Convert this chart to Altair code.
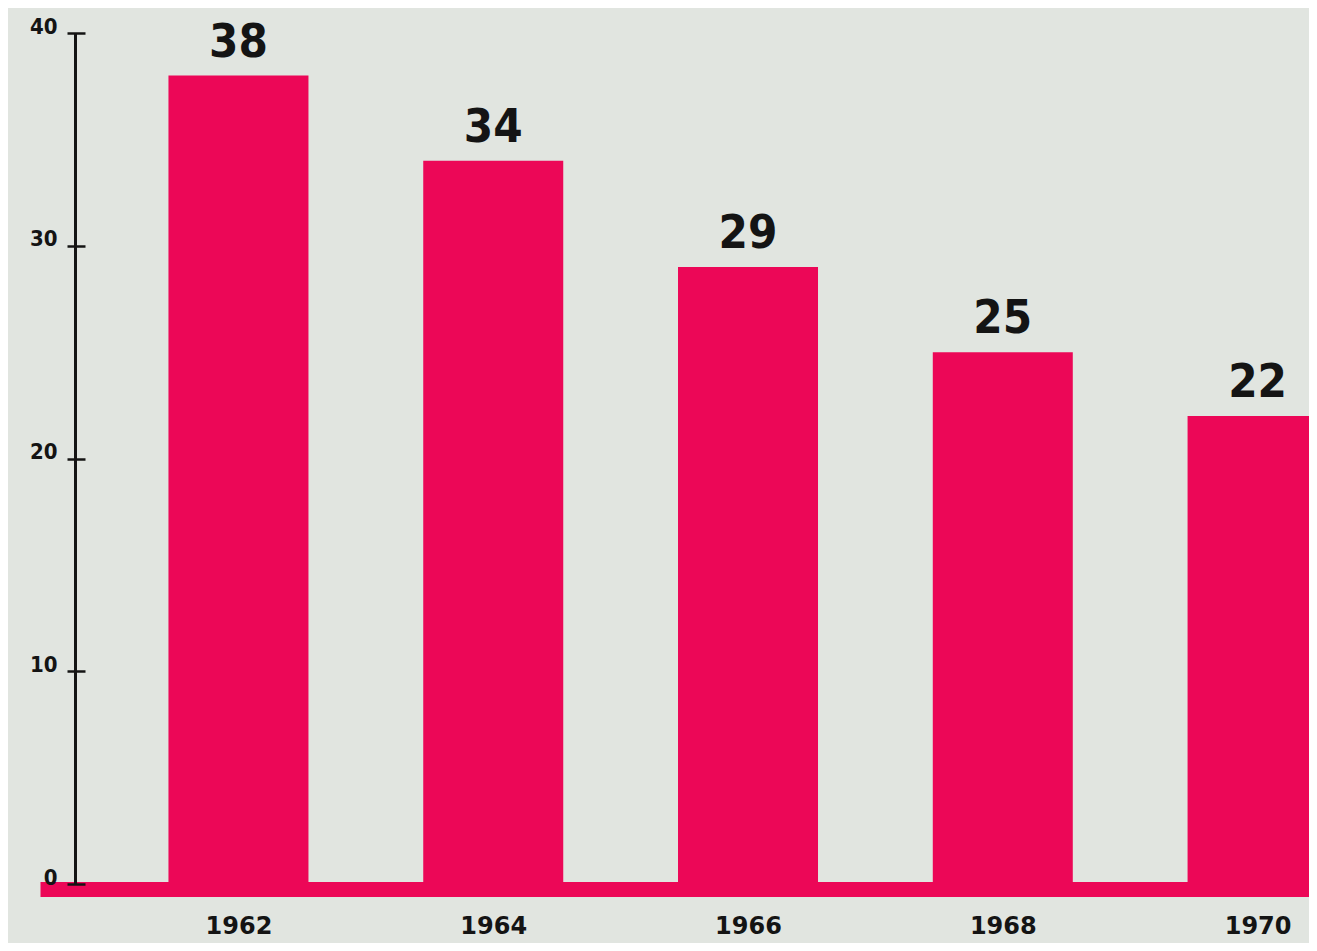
import altair as alt
import pandas as pd

years = [1962, 1964, 1966, 1968, 1970]
values = [38, 34, 29, 25, 22]
y_ticks = [0, 10, 20, 30, 40]

df = pd.DataFrame({"year": years, "value": values})

BG = "#E1E5E0"
RED = "#EC0757"
INK = "#141414"

xscale = alt.Scale(domain=[1960.4813, 1970.3645], nice=False, zero=False)
yscale = alt.Scale(domain=[0, 40], nice=False, zero=True)

base = alt.Chart(df)

bars = base.mark_bar(size=140, color=RED, clip=True).encode(
    x=alt.X(
        "year:Q",
        scale=xscale,
        axis=alt.Axis(
            values=years, format="d", title=None, grid=False, ticks=False,
            domainColor=RED, domainWidth=15, offset=5,
            labelFont="DejaVu Sans", labelFontWeight="bold", labelFontSize=24,
            labelColor=INK, labelPadding=25, labelFlush=False,
            labelOverlap=False, labelBound=False,
        ),
    ),
    y=alt.Y(
        "value:Q",
        scale=yscale,
        axis=alt.Axis(
            orient="left", values=y_ticks, offset=-45, domain=False,
            tickSize=18, tickWidth=2.5, tickColor=INK, grid=False, title=None,
            labelBaseline="alphabetic", labelAlign="right", labelPadding=10,
            labelFont="DejaVu Sans Condensed", labelFontWeight="bold",
            labelFontSize=22, labelColor=INK, labelFlush=False, labelBound=False,
        ),
    ),
)

labels = base.mark_text(
    baseline="alphabetic", dy=-19,
    font="DejaVu Sans Condensed",
    fontSize=47, fontWeight="bold", color=INK,
).encode(
    x=alt.X("year:Q", scale=xscale, axis=None),
    y=alt.Y(
        "value:Q",
        scale=yscale,
        axis=alt.Axis(
            orient="left", offset=-35, domain=True, domainWidth=3,
            domainColor=INK, ticks=False, labels=False, grid=False, title=None,
        ),
    ),
    text=alt.Text("value:Q"),
)

chart = (
    alt.layer(bars, labels)
    .resolve_axis(x="independent", y="independent")
    .properties(
        width=1269,
        height=851,
        background=BG,
        padding={"left": 32, "top": 25, "right": 0, "bottom": 59},
        autosize=alt.AutoSizeParams(type="none"),
    )
    .configure_view(stroke=None)
)

chart.save("out.html", embed_options={"renderer": "svg", "actions": False})
